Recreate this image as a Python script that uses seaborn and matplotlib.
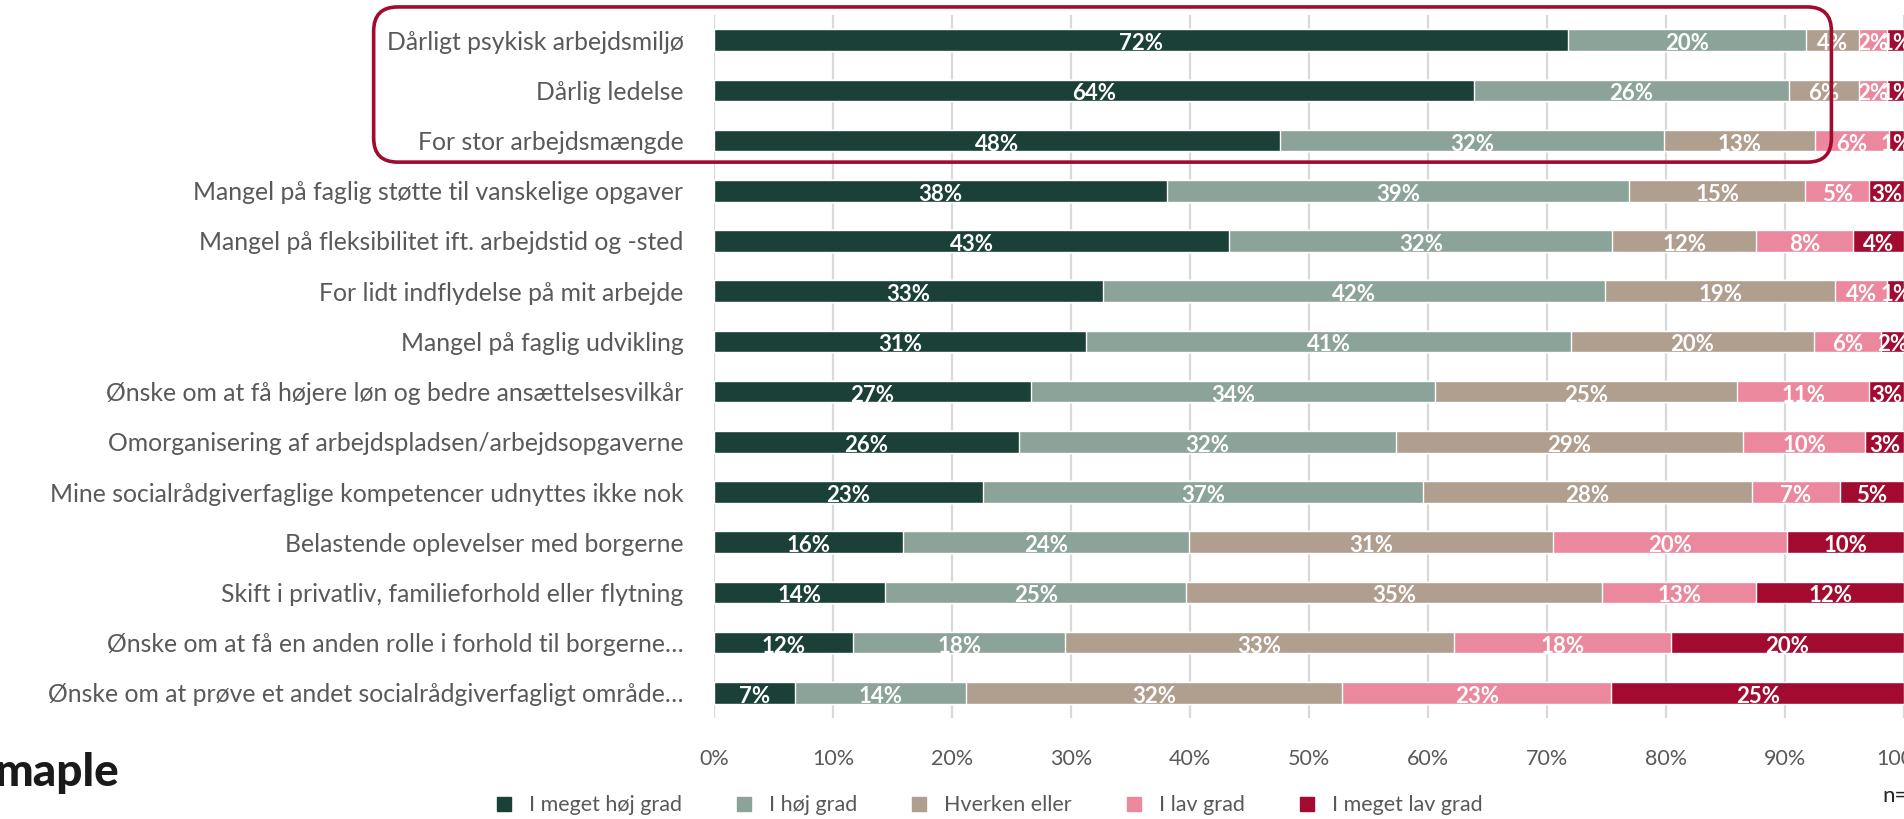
import matplotlib
matplotlib.use("Agg")
import matplotlib.pyplot as plt
import seaborn as sns
import numpy as np
from matplotlib.patches import FancyBboxPatch
from matplotlib.lines import Line2D

categories = [
    "Dårligt psykisk arbejdsmiljø",
    "Dårlig ledelse",
    "For stor arbejdsmængde",
    "Mangel på faglig støtte til vanskelige opgaver",
    "Mangel på fleksibilitet ift. arbejdstid og -sted",
    "For lidt indflydelse på mit arbejde",
    "Mangel på faglig udvikling",
    "Ønske om at få højere løn og bedre ansættelsesvilkår",
    "Omorganisering af arbejdspladsen/arbejdsopgaverne",
    "Mine socialrådgiverfaglige kompetencer udnyttes ikke nok",
    "Belastende oplevelser med borgerne",
    "Skift i privatliv, familieforhold eller flytning",
    "Ønske om at få en anden rolle i forhold til borgerne…",
    "Ønske om at prøve et andet socialrådgiverfagligt område…",
]
series = ["I meget høj grad", "I høj grad", "Hverken eller", "I lav grad", "I meget lav grad"]

meget_hoej = [71.8, 63.9, 47.6, 38.1, 43.3, 32.7, 31.3, 26.6, 25.6, 22.6, 15.9, 14.4, 11.7, 6.8]
hoej = [20.0, 26.4, 32.2, 38.8, 32.2, 42.2, 40.7, 34.0, 31.7, 37.0, 24.0, 25.3, 17.8, 14.4]
hverken = [4.4, 5.9, 12.7, 14.8, 12.1, 19.3, 20.4, 25.4, 29.2, 27.6, 30.6, 34.9, 32.7, 31.6]
lav = [2.4, 2.4, 6.2, 5.4, 8.1, 4.4, 5.7, 11.1, 10.2, 7.4, 19.7, 13.0, 18.2, 22.6]
meget_lav = [1.4, 1.4, 1.3, 2.9, 4.3, 1.4, 1.9, 2.9, 3.3, 5.4, 9.8, 12.4, 19.6, 24.6]

colors = ["#1a4037", "#8ba398", "#b09e8f", "#ec889e", "#a30a30"]
grey = "#595959"

sns.set_theme(style="white")
plt.rcParams["font.family"] = ["Lato", "DejaVu Sans"]

fig = plt.figure(figsize=(19.04, 8.19), dpi=100)
ax = fig.add_axes([0.375, 0.1233, 0.625, 0.8584])

data = np.array([meget_hoej, hoej, hverken, lav, meget_lav])
cum = data.cumsum(axis=0)

# stacked bars: draw cumulative totals from the back
for k in range(len(series) - 1, -1, -1):
    sns.barplot(x=cum[k], y=categories, orient="h", color=colors[k],
                saturation=1, width=0.43, ax=ax, zorder=2)

for k in range(len(series)):
    left = cum[k] - data[k]
    for i, v in enumerate(data[k]):
        ax.text(left[i] + v / 2, i + 0.07, f"{v:.0f}%", ha="center", va="center",
                color="white", fontsize=16, fontweight="bold", zorder=3)

ax.set_xlim(0, 100)
ax.set_ylim(13.5, -0.5)
ax.set_xticks(range(0, 101, 10))
ax.set_xticklabels([f"{t}%" for t in range(0, 101, 10)])
ax.set_xlabel("")
ax.set_ylabel("")
ax.grid(axis="x", color="#d9d9d9", lw=1.6)
ax.set_axisbelow(True)
for s in ax.spines.values():
    s.set_visible(False)
ax.tick_params(axis="y", length=0, pad=22, labelsize=17.8, labelcolor=grey)
ax.tick_params(axis="x", length=0, pad=22, labelsize=15.5, labelcolor=grey)

# rounded frame around the top three rows
fig.canvas.draw()
p0 = ax.transData.transform((-28.6, 2.43))
p1 = ax.transData.transform((93.9, -0.66))
inv = fig.dpi_scale_trans.inverted()
(x0, y0), (x1, y1) = inv.transform(p0), inv.transform(p1)
box = FancyBboxPatch((x0, y0), x1 - x0, y1 - y0,
                     boxstyle="round,pad=0,rounding_size=0.24",
                     transform=fig.dpi_scale_trans, fill=False,
                     ec="#a30a30", lw=2.6, zorder=10)
fig.add_artist(box)

handles = [Line2D([], [], marker="s", ls="", color=c, markersize=10) for c in colors]
fig.legend(handles, series, loc="center", bbox_to_anchor=(0.516, 0.017), ncol=5,
           frameon=False, fontsize=15.5, handletextpad=0.15, columnspacing=1.9,
           labelcolor=grey)

fig.text(-0.003, 1 - 773 / 819, "maple", fontsize=33, fontweight="black",
         color="#1a1a1a", ha="left", va="center")
fig.text(0.9885, 0.028, "n=", fontsize=16, color="#262626", ha="left", va="center")

fig.savefig("out.png", dpi=100)
